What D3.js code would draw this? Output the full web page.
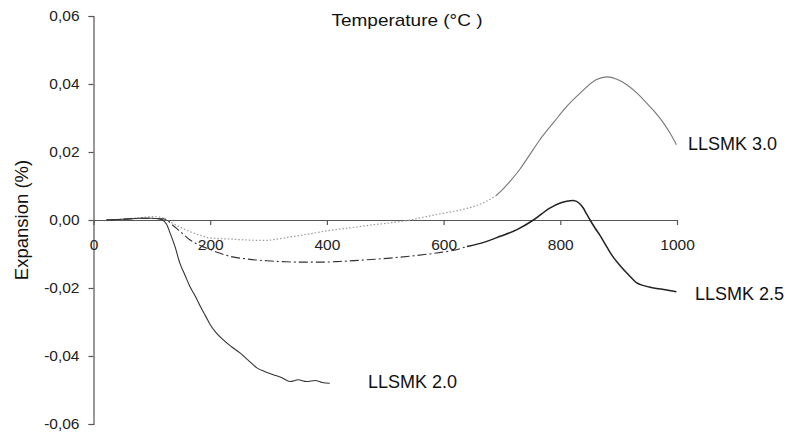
<!DOCTYPE html>
<html>
<head>
<meta charset="utf-8">
<script src="https://cdn.jsdelivr.net/npm/d3@7"></script>
<style>
  html, body { margin: 0; padding: 0; background: #fff; }
  svg { display: block; font-family: "Liberation Sans", Arial, sans-serif; }
</style>
</head>
<body>
<svg id="chart" width="790" height="437"></svg>
<script>
// Dilatometer curves: expansion (%) versus temperature (°C)
const xTicks = [0, 200, 400, 600, 800, 1000];
const yTicks = [-0.06, -0.04, -0.02, 0, 0.02, 0.04, 0.06];

const tempA = [22, 50, 80, 100, 114, 125, 131, 140, 148, 157, 165, 175, 183, 192, 200, 210, 222, 236, 251, 265, 280, 294, 308, 322, 337, 351, 365, 380, 392, 405];
const llsmk20 = [0, 0.0002, 0.0005, 0.0005, 0.0003, -0.0012, -0.0037, -0.0080, -0.0127, -0.0163, -0.0195, -0.0226, -0.0254, -0.0282, -0.0308, -0.0331, -0.0352, -0.0372, -0.0391, -0.0412, -0.0435, -0.0446, -0.0455, -0.0463, -0.0475, -0.0470, -0.0475, -0.0472, -0.0478, -0.0480];

const tempB = [22, 50, 80, 110, 125, 131, 148, 165, 183, 200, 217, 234, 265, 297, 330, 359, 390, 422, 460, 508, 550, 588, 620, 640, 670, 697, 725, 754, 782, 800, 811, 822, 832, 839, 845, 851, 860, 868, 880, 891, 903, 914, 923, 931, 943, 954, 975, 999];
const llsmk25 = [0, 0.0002, 0.0005, 0.0004, 0.0002, -0.0008, -0.0033, -0.0058, -0.0075, -0.0087, -0.0098, -0.0107, -0.0115, -0.0120, -0.0123, -0.0124, -0.0124, -0.0122, -0.0118, -0.0112, -0.0105, -0.0097, -0.0088, -0.0078, -0.0065, -0.0048, -0.0029, 0.0000, 0.0035, 0.0050, 0.0055, 0.0057, 0.0050, 0.0036, 0.0018, 0.0000, -0.0025, -0.0045, -0.0080, -0.0110, -0.0135, -0.0156, -0.0172, -0.0185, -0.0193, -0.0198, -0.0204, -0.0211];

const tempC = [22, 50, 80, 102, 115, 125, 145, 165, 183, 200, 234, 265, 297, 314, 337, 370, 400, 440, 479, 510, 543, 565, 600, 640, 670, 690, 705, 731, 748, 765, 790, 811, 834, 862, 880, 897, 914, 931, 948, 963, 977, 990, 999];
const llsmk30 = [0, 0.0003, 0.0007, 0.0010, 0.0008, 0.0000, -0.0018, -0.0034, -0.0045, -0.0053, -0.0056, -0.0059, -0.0060, -0.0056, -0.0050, -0.0041, -0.0032, -0.0023, -0.0014, -0.0008, 0.0000, 0.0008, 0.0020, 0.0034, 0.0052, 0.0072, 0.0097, 0.0150, 0.0193, 0.0236, 0.0290, 0.0334, 0.0373, 0.0413, 0.0421, 0.0414, 0.0398, 0.0374, 0.0344, 0.0316, 0.0285, 0.0250, 0.0221];

const seriesNames = ["LLSMK 2.0", "LLSMK 2.5", "LLSMK 3.0"];

const svg = d3.select("#chart");
const x = d3.scaleLinear().domain([0, 1000]).range([93.5, 677]);
const y = d3.scaleLinear().domain([-0.06, 0.06]).range([424, 16]);

const comma = d3.formatLocale({ decimal: ",", thousands: ".", grouping: [3], currency: ["", ""], minus: "-" });
const fmtY = comma.format(".2f");

const axisColor = "#555";

// Y axis
const gy = svg.append("g")
  .attr("transform", `translate(${x(0)},0)`)
  .call(d3.axisLeft(y).tickValues(yTicks).tickSize(5).tickPadding(9).tickFormat(fmtY));
gy.select(".domain").attr("stroke", axisColor).attr("stroke-width", 1.2);
gy.selectAll(".tick line").attr("stroke", axisColor).attr("stroke-width", 1.2);
gy.selectAll(".tick text").attr("font-size", "15.5px").attr("fill", "#222")
  .attr("font-family", "'Liberation Sans', Arial, sans-serif");

// X axis along zero expansion
const gx = svg.append("g")
  .attr("transform", `translate(0,${y(0)})`)
  .call(d3.axisBottom(x).tickValues(xTicks).tickSize(5).tickPadding(14).tickSizeOuter(0).tickFormat(d3.format("d")));
gx.select(".domain").attr("stroke", axisColor).attr("stroke-width", 1.2);
gx.selectAll(".tick line").attr("stroke", axisColor).attr("stroke-width", 1.2);
gx.selectAll(".tick text").attr("font-size", "15.5px").attr("fill", "#222")
  .attr("font-family", "'Liberation Sans', Arial, sans-serif");

// Titles
svg.append("text")
  .attr("x", 407).attr("y", 26)
  .attr("text-anchor", "middle")
  .attr("font-size", "17px").attr("fill", "#111")
  .attr("textLength", 151).attr("lengthAdjust", "spacingAndGlyphs")
  .text("Temperature (°C )");

svg.append("text")
  .attr("transform", `translate(28,${y(0)}) rotate(-90)`)
  .attr("text-anchor", "middle")
  .attr("font-size", "18.5px").attr("fill", "#111")
  .text("Expansion (%)");

// Curves
const line = d3.line()
  .x(d => x(d[0]))
  .y(d => y(d[1]))
  .curve(d3.curveMonotoneX);

function pairs(ts, vs) { return ts.map((t, i) => [t, vs[i]]); }
function drawPart(data, from, to, style) {
  const part = data.filter(d => d[0] >= from && d[0] <= to);
  const p = svg.append("path")
    .datum(part)
    .attr("fill", "none")
    .attr("stroke", style.color)
    .attr("stroke-width", style.width)
    .attr("d", line);
  if (style.dash) p.attr("stroke-dasharray", style.dash);
}

const d30 = pairs(tempC, llsmk30);
drawPart(d30, 0, 690, { color: "#9a9a9a", width: 1.2, dash: "1.5,2" });
drawPart(d30, 690, 1000, { color: "#777", width: 1.1 });

const d25 = pairs(tempB, llsmk25);
drawPart(d25, 0, 640, { color: "#333", width: 1.1, dash: "9,3,2,3" });
drawPart(d25, 640, 1000, { color: "#222", width: 1.5 });

const d20 = pairs(tempA, llsmk20);
drawPart(d20, 0, 1000, { color: "#333", width: 1.1 });

// Series labels
const labelPos = [[368, 388], [695, 300], [688, 150]];
seriesNames.forEach((name, i) => {
  svg.append("text")
    .attr("x", labelPos[i][0]).attr("y", labelPos[i][1])
    .attr("font-size", "18px").attr("fill", "#111")
    .text(name);
});
</script>
</body>
</html>
